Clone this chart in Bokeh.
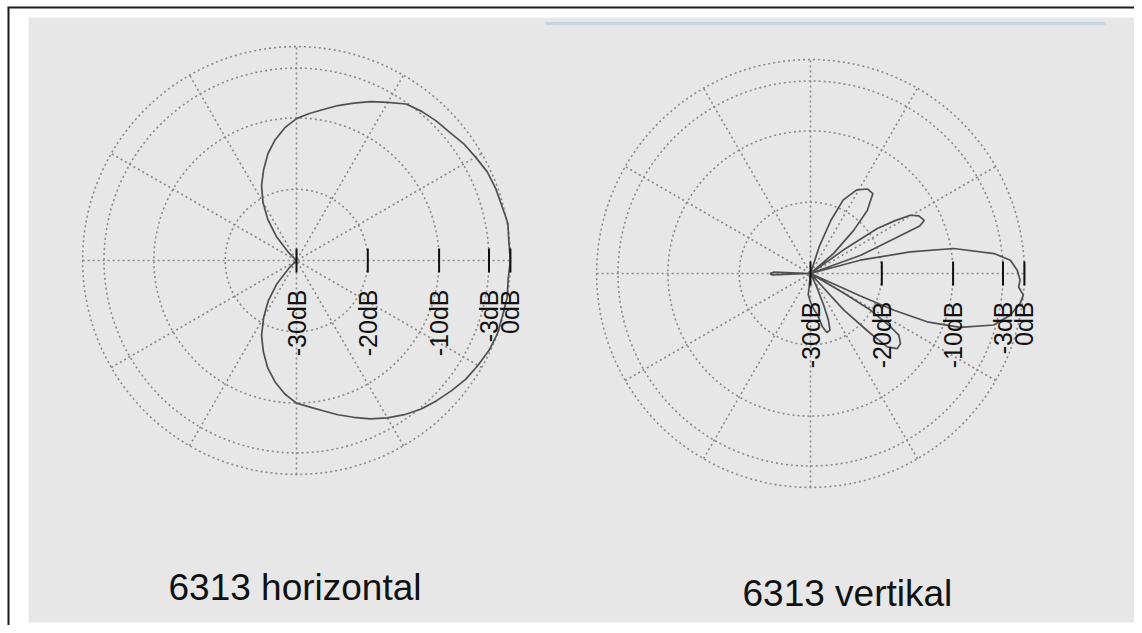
import numpy as np
from bokeh.plotting import figure
from bokeh.models import Range1d
from bokeh.core.properties import value
from bokeh.embed import file_html
from bokeh.resources import INLINE

# ---------------- data ----------------
# horizontal polar pattern (angle in degrees, level in dB)
H_ANGLES = [-180, -140, -135, -130, -125, -120, -115, -110, -105, -100, -95, -90,
            -85, -80, -75, -70, -65, -60, -55, -50, -45, -40, -35, -30, -25, -20,
            -15, -10, -5, 0, 5, 10, 15, 20, 25, 30, 35, 40, 45, 50, 55, 60, 65, 70,
            75, 80, 85, 90, 95, 100, 105, 110, 115, 120, 125, 130, 135, 140, 180]
H_DB = [-30, -30, -28.6, -25.7, -23.1, -20.8, -18.4, -16.4, -14.4, -12.7, -11.2, -10.0,
        -9.4, -8.6, -7.6, -6.6, -5.5, -4.5, -3.6, -2.8, -2.2, -1.6, -1.0, -0.6, -0.2, 0.0,
        -0.1, 0.0, -0.2, 0.0, -0.1, 0.1, -0.2, -0.3, -0.5, -1.0, -1.4, -2.0, -2.3, -2.7, -3.2, -4.4, -5.4, -6.5,
        -7.5, -8.5, -9.3, -10.1, -11.3, -12.8, -14.5, -16.5, -18.4, -20.6, -23.0, -25.6, -28.5, -30, -30]

# vertical polar pattern
V_ANGLES = [-180, -178, -177, -100, -96, -90, -85, -80, -77.5, -74.5, -71, -69, -67.5, -65, -63,
            -51, -47.7, -45, -43.7, -40.9, -37.9, -34.9, -33.7, -31.4, -30.5, -29,
            -25.5, -24.2, -23.7, -22.5, -19.8, -15.7, -11.8, -8.1, -5.8, -3.7, -1.8, 0.9, 3.8,
            6.2, 9.9, 12.2, 15, 17, 18.5, 20, 22.5, 23.5, 25, 28, 30.3, 32, 34, 35.5, 37,
            39, 41, 45, 48, 52, 56, 61, 66, 69, 72, 75, 177, 178, 180]
V_DB = [-24.3, -24.6, -30, -30, -27.0, -26.0, -25.0, -24.0, -22.4, -21.4, -21.6, -23.0, -25.0, -28.0, -30,
        -30, -23.1, -18.1, -15.1, -13.9, -14.0, -14.9, -16.5, -20.1, -24.6, -30,
        -30, -22.4, -17.2, -12.3, -7.7, -3.3, -1.4, -0.3, 0.0, -0.75, -0.6, -1.0, -1.9,
        -4.1, -9.6, -15.7, -22.8, -30, -30, -22.5, -17.3, -13.3, -12.4, -12.8, -13.8, -16.0, -18.7, -24.0, -30,
        -30, -25.7, -21.4, -18.1, -15.8, -15.7, -16.6, -18.7, -22.0, -26.0, -30, -30, -24.8, -24.3]

RING_DB = [-20, -10, -3, 0]
SPOKE_ANGLES = [0, 30, 60, 90, 120, 150]
TICK_DB = [-30, -20, -10, -3, 0]
TICK_LABELS = ["-30dB", "-20dB", "-10dB", "-3dB", "0dB"]
TITLES = ["6313 horizontal", "6313 vertikal"]

# ---------------- layout ----------------
W, H = 1134, 625
K = 7.13          # pixels per dB
FLOOR = -30.0


def sy(y_screen):
    return H - y_screen


p = figure(width=W, height=H, x_range=Range1d(0, W), y_range=Range1d(0, H),
           output_backend="svg", toolbar_location=None, min_border=0,
           x_axis_location=None, y_axis_location=None, outline_line_color=None,
           background_fill_color="white", border_fill_color="white")
p.grid.visible = False

# panel & frame decoration
p.quad(left=28, right=1134, top=sy(17), bottom=sy(622), fill_color="#e7e7e7", line_color=None)
p.segment(x0=[7, 8], y0=[sy(7), sy(7)], x1=[1134, 8], y1=[sy(7), sy(625)],
          line_color="#1c1c1c", line_width=2)
p.segment(x0=[545], y0=[sy(23)], x1=[1105], y1=[sy(23)], line_color="#c3d5e4", line_width=3)


def radius(db):
    return np.clip(np.asarray(db, dtype=float) - FLOOR, 0, None) * K


def polar(cx, cy, angles, db):
    r = radius(db)
    t = np.radians(np.asarray(angles, dtype=float))
    return cx + r * np.cos(t), cy + r * np.sin(t)


def polar_panel(cx, cy, angles, db, label_off):
    grid_col = "#8a8a8a"
    rr = radius(RING_DB)
    p.circle(x=[cx] * len(rr), y=[cy] * len(rr), radius=list(rr), fill_color=None,
             line_color=grid_col, line_width=1.6, line_dash="2 3")
    R = rr.max()
    t = np.radians(SPOKE_ANGLES)
    p.segment(x0=cx - R * np.cos(t), y0=cy - R * np.sin(t), x1=cx + R * np.cos(t), y1=cy + R * np.sin(t),
              line_color=grid_col, line_width=1.6, line_dash="2 3")
    x, y = polar(cx, cy, angles, db)
    p.line(x, y, line_color="#505050", line_width=1.7)
    tx = cx + radius(TICK_DB)
    p.segment(x0=tx, y0=[cy - 12] * len(tx), x1=tx, y1=[cy + 12] * len(tx),
              line_color="#111111", line_width=2)
    p.text(x=tx, y=[cy - label_off] * len(tx), text=TICK_LABELS, angle=np.pi / 2,
           text_align="right", text_baseline="middle", text_font=value("Liberation Sans"),
           text_font_size="25px", text_color="#111111")


polar_panel(296, sy(260), H_ANGLES, H_DB, 29)
polar_panel(810, sy(273), V_ANGLES, V_DB, 28)

p.text(x=[168, 742], y=[sy(587), sy(593)], text=TITLES, text_align="left",
       text_baseline="alphabetic", text_font=value("Liberation Sans"),
       text_font_size="37px", text_color="#111111")

open("out.html", "w").write(file_html(p, INLINE))
